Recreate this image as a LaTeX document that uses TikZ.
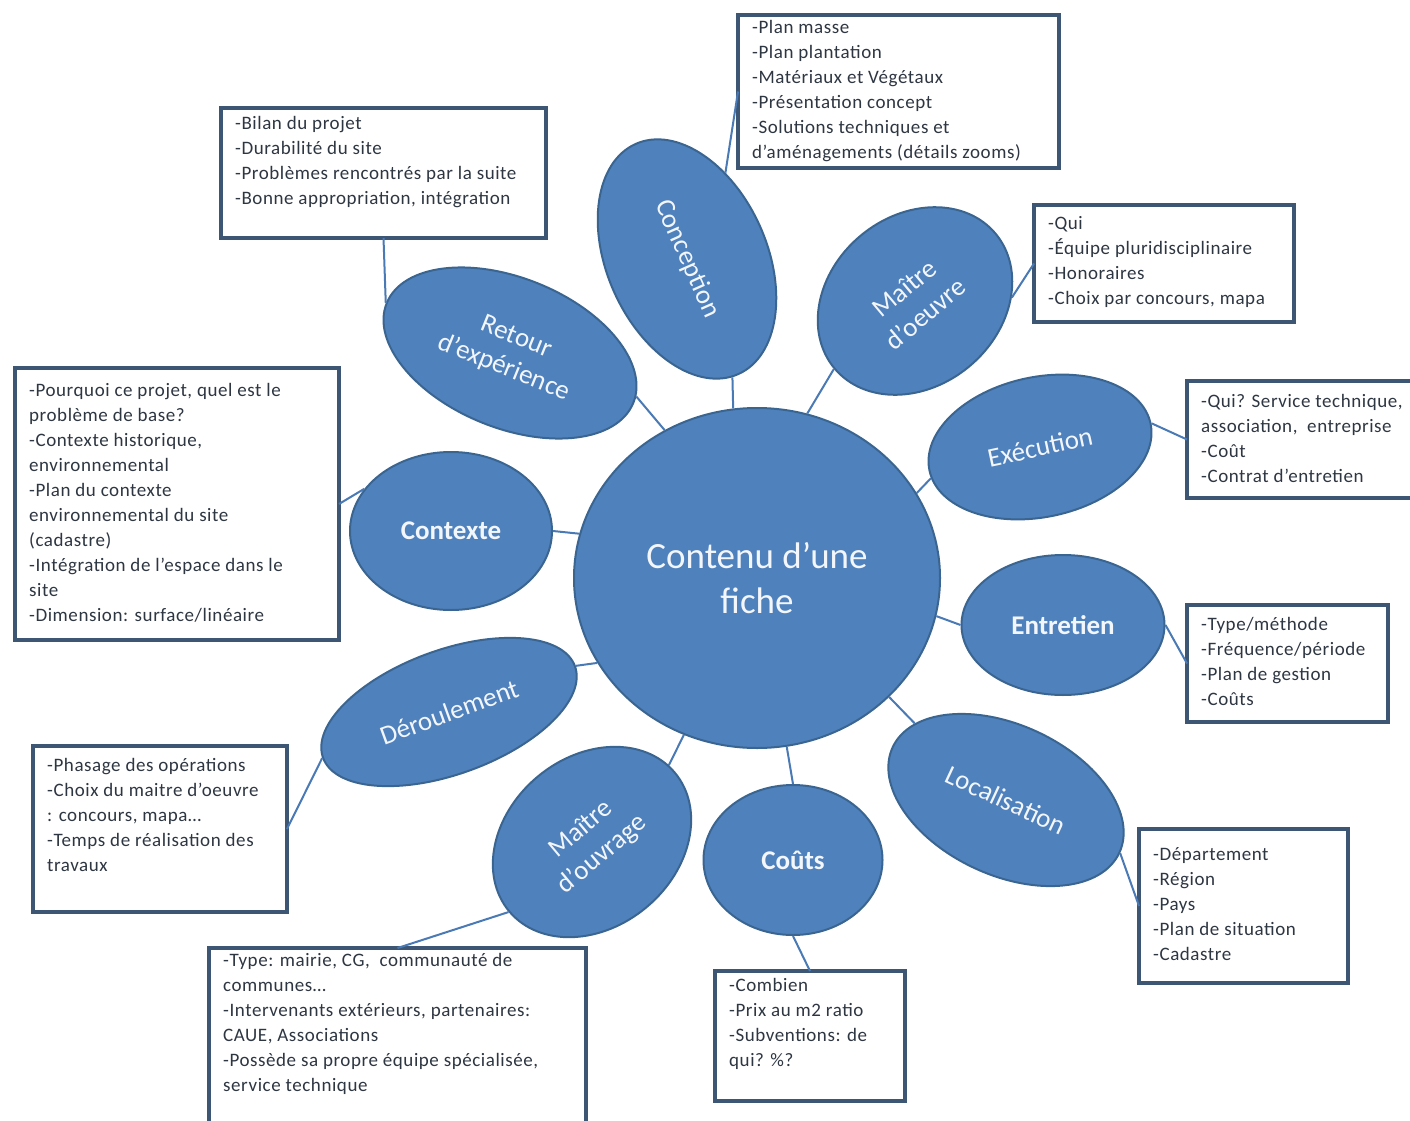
\documentclass[tikz,border=0pt]{standalone}
\usepackage{fontspec}
\setmainfont{Carlito}
\newfontfamily\listfont[LetterSpace=3]{Carlito}
\usetikzlibrary{shapes.geometric,positioning}
\definecolor{bubblefill}{HTML}{4F81BD}
\definecolor{bubbleline}{HTML}{3A6591}
\definecolor{boxline}{HTML}{3D5674}
\definecolor{linkcol}{HTML}{4A7AB5}
\definecolor{itemcol}{HTML}{2E3642}
\definecolor{labelcol}{HTML}{F3F6FB}

\begin{document}
\begin{tikzpicture}[x=1pt,y=1pt,
  bubble/.style={ellipse,draw=bubbleline,line width=2pt,fill=bubblefill,inner sep=0pt,
    text=labelcol,align=center,font=\fontsize{27}{33}\selectfont},
  hubnode/.style={bubble,font=\fontsize{37}{45}\selectfont},
  listbox/.style={draw=boxline,line width=4pt,fill=white,anchor=north west,outer sep=0pt},
  listtext/.style={inner sep=0pt,align=left,text=itemcol,font=\listfont\fontsize{19}{25}\selectfont},
  link/.style={linkcol,line width=2pt}]
\useasboundingbox (0,0) rectangle (1410,-1121);
\fill[white] (0,0) rectangle (1410,-1121);

% centre
\node[hubnode,minimum width=366,minimum height=340] (hub) at (757,-578) {Contenu d’une\\fiche};

% bubbles round the centre
\node[bubble,minimum width=252,minimum height=160,rotate=-66] (conc) at (687,-259) {Conception};
\node[bubble,minimum width=210,minimum height=170,rotate=40] (moe) at (915,-301) {Maître\\d’oeuvre};
\node[bubble,minimum width=226,minimum height=140,rotate=12] (exe) at (1040,-447) {Exécution};
\node[bubble,minimum width=203,minimum height=140] (ent) at (1063,-625) {\bfseries Entretien};
\node[bubble,minimum width=250,minimum height=150,rotate=-25] (loc) at (1006,-800) {Localisation};
\node[bubble,minimum width=179,minimum height=150] (cout) at (793,-860) {\bfseries Coûts};
\node[bubble,minimum width=216,minimum height=170,rotate=40] (mou) at (592,-842) {Maître\\d’ouvrage};
\node[bubble,minimum width=268,minimum height=124,rotate=20] (der) at (449,-712) {Déroulement};
\node[bubble,minimum width=202,minimum height=158] (ctx) at (451,-531) {\bfseries Contexte};
\node[bubble,minimum width=266,minimum height=150,rotate=-22] (ret) at (510,-353) {Retour\\d’expérience};

% boxes
\node[listbox,minimum width=321,minimum height=153] (conbox) at (738,-15) {};
\node[listtext,below right=5pt and 14pt of conbox.north west] (conlist) {-Plan masse\\-Plan plantation\\-Matériaux et Végétaux\\-Présentation concept\\-Solutions techniques et\\d’aménagements (détails zooms)};

\node[listbox,minimum width=325,minimum height=130] (retbox) at (221,-108) {};
\node[listtext,below right=8pt and 14pt of retbox.north west] (retlist) {-Bilan du projet\\-Durabilité du site\\-Problèmes rencontrés par la suite\\-Bonne appropriation, intégration};

\node[listbox,minimum width=260,minimum height=117] (moebox) at (1034,-205) {};
\node[listtext,below right=11pt and 14pt of moebox.north west] (moelist) {-Qui\\-Équipe pluridisciplinaire\\-Honoraires\\-Choix par concours, mapa};

\node[listbox,minimum width=235,minimum height=117] (exebox) at (1187,-381) {};
\node[listtext,below right=13pt and 14pt of exebox.north west] (exelist) {-Qui? Service technique,\\association,\ \ entreprise\\-Coût\\-Contrat d’entretien};

\node[listbox,minimum width=324,minimum height=272] (ctxbox) at (15,-368) {};
\node[listtext,below right=15pt and 14pt of ctxbox.north west] (ctxlist) {-Pourquoi ce projet, quel est le\\problème de base?\\-Contexte historique,\\environnemental\\-Plan du contexte\\environnemental du site\\(cadastre)\\-Intégration de l’espace dans le\\site\\-Dimension: surface/linéaire};

\node[listbox,minimum width=201,minimum height=117] (entbox) at (1187,-605) {};
\node[listtext,below right=12pt and 14pt of entbox.north west] (entlist) {-Type/méthode\\-Fréquence/période\\-Plan de gestion\\-Coûts};

\node[listbox,minimum width=254,minimum height=166] (derbox) at (33,-746) {};
\node[listtext,below right=12pt and 14pt of derbox.north west] (derlist) {-Phasage des opérations\\-Choix du maitre d’oeuvre\\: concours, mapa…\\-Temps de réalisation des\\travaux};

\node[listbox,minimum width=209,minimum height=154] (locbox) at (1139,-829) {};
\node[listtext,below right=18pt and 14pt of locbox.north west] (loclist) {-Département\\-Région\\-Pays\\-Plan de situation\\-Cadastre};

\node[listbox,minimum width=377,minimum height=185] (moubox) at (209,-948) {};
\node[listtext,below right=5pt and 14pt of moubox.north west] (moulist) {-Type: mairie, CG,\ \ communauté\ de\\communes…\\-Intervenants extérieurs, partenaires:\\CAUE, Associations\\-Possède sa propre équipe spécialisée,\\service technique};

\node[listbox,minimum width=190,minimum height=130] (coutbox) at (715,-971) {};
\node[listtext,below right=7pt and 14pt of coutbox.north west] (coutlist) {-Combien\\-Prix au m2 ratio\\-Subventions: de\\qui? \%?};

% links
\draw[link] (conc.132) -- (conbox.west);
\draw[link] (conc.-3) -- (hub.98);
\draw[link] (moe.-38) -- (moebox.west);
\draw[link] (moe.180) -- (hub.73);
\draw[link] (exe.184) -- (hub.28);
\draw[link] (exe.east) -- (exebox.west);
\draw[link] (hub.-12) -- (ent.west);
\draw[link] (ent.east) -- (entbox.west);
\draw[link] (hub.-42) -- (loc.165);
\draw[link] (loc.east) -- (locbox.west);
\draw[link] (hub.-80) -- (cout.north);
\draw[link] (cout.south) -- (coutbox.north);
\draw[link] (hub.-115) -- (mou.5);
\draw[link] (mou.west) -- (moubox.north);
\draw[link] (hub.208) -- (der.east);
\draw[link] (der.west) -- (derbox.east);
\draw[link] (hub.166) -- (ctx.east);
\draw[link] (ctx.154) -- (ctxbox.east);
\draw[link] (hub.122) -- (ret.3);
\draw[link] (ret.west) -- (retbox.south);
\end{tikzpicture}
\end{document}
